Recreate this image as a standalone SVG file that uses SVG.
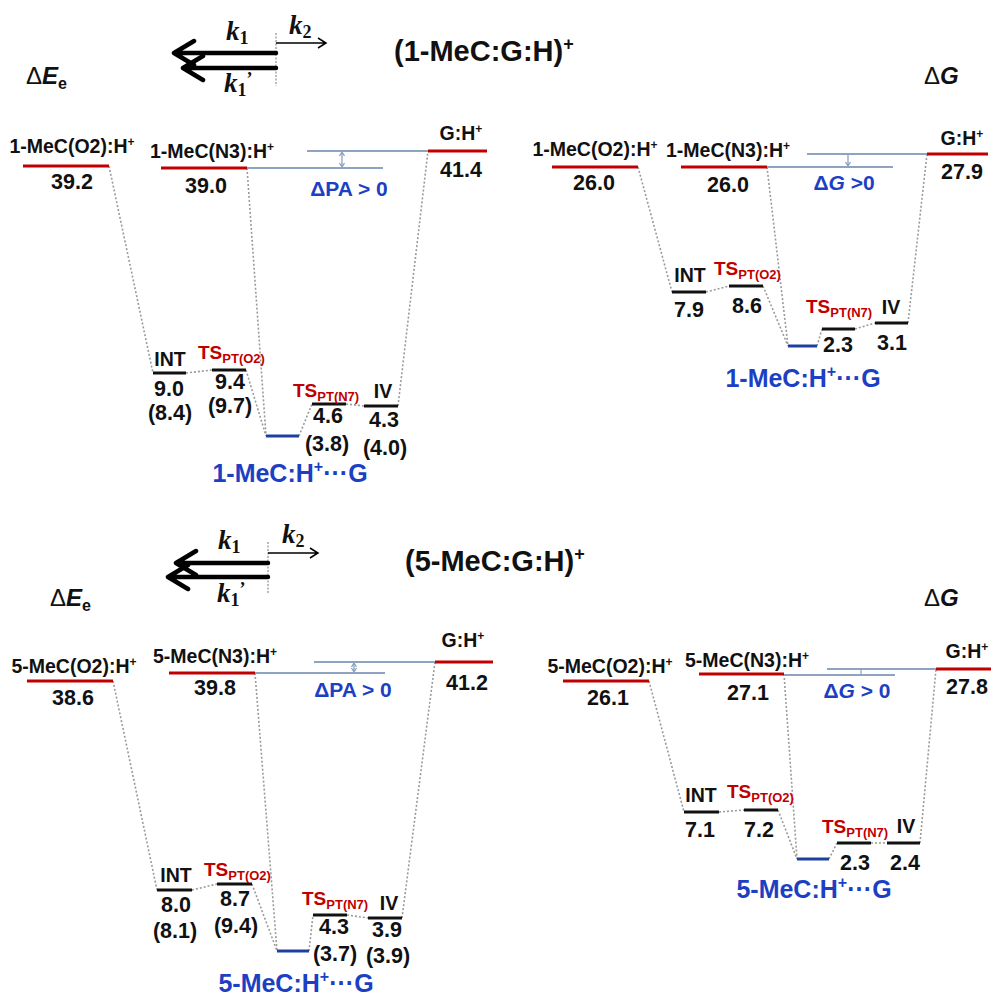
<svg xmlns="http://www.w3.org/2000/svg" width="991" height="997" viewBox="0 0 991 997">
<defs>
<style>
text{font-family:"Liberation Sans",Arial,sans-serif;font-weight:bold;fill:#111}
.lbl{font-size:19.5px;text-anchor:middle}
.num{font-size:21.5px;text-anchor:middle}
.ts{font-size:19px;fill:#c00000}
.ts .sub{font-size:13px}
.blue{fill:#1c3fc4}
.bl{font-size:25px;text-anchor:middle}
.dl{font-size:21px;text-anchor:middle}
.title{font-size:29px}
.k{font-family:"Liberation Serif","Times New Roman",serif;font-style:italic;font-size:27px}
.k .s{font-style:normal;font-size:18px}
.lv{stroke-width:3;fill:none}
.red{stroke:#c00000}
.blk{stroke:#111}
.bll{stroke:#1f3fa0}
.ref{stroke:#8ea3c0;stroke-width:2;fill:none}
.con path{stroke:#9a9a9a;stroke-width:1.6;stroke-dasharray:2 2;fill:none}
.thick{stroke:#000;stroke-width:4.5;fill:none;stroke-linecap:round;stroke-linejoin:round}
.thin{stroke:#000;stroke-width:1.5;fill:none}
.vd{stroke:#777;stroke-width:1;stroke-dasharray:2 1.5}
.tick{stroke:#8ea3c0;stroke-width:1.3;fill:none}
</style>
</defs>
<rect width="991" height="997" fill="#fff"/>

<!-- ===== top arrows & titles ===== -->
<g id="kinetics-top">
<line class="vd" x1="276" y1="33" x2="276" y2="86"/>
<path class="thick" d="M276,53 H175 M194,41 L174,53 L194,65"/>
<path class="thick" d="M276,68 H184 M203,56 L183,68 L203,80"/>
<path class="thin" d="M276,43 H326 M318,38 L326,43 L318,48"/>
<text class="k" x="226" y="40">k<tspan class="s" dy="4">1</tspan></text>
<text class="k" x="289" y="34">k<tspan class="s" dy="4">2</tspan></text>
<text class="k" x="224" y="92">k<tspan class="s" dy="4">1</tspan><tspan class="s" dy="-11">’</tspan></text>
</g>
<text id="title-top" class="title" x="394" y="61">(1-MeC:G:H)<tspan font-size="18" dy="-11">+</tspan></text>
<text id="axis-tl" x="26" y="84" font-size="24"><tspan font-weight="normal">Δ</tspan><tspan font-style="italic">E</tspan><tspan font-size="16" dy="5">e</tspan></text>
<text id="axis-tr" x="924" y="84" font-size="24"><tspan font-weight="normal">Δ</tspan><tspan font-style="italic">G</tspan></text>

<!-- ===== bottom arrows & titles ===== -->
<g id="kinetics-bottom">
<line class="vd" x1="268" y1="542" x2="268" y2="593"/>
<path class="thick" d="M268,563 H177 M196,551 L176,563 L196,575"/>
<path class="thick" d="M268,577 H169 M188,565 L168,577 L188,589"/>
<path class="thin" d="M268,553 H318 M310,548 L318,553 L310,558"/>
<text class="k" x="218" y="549">k<tspan class="s" dy="4">1</tspan></text>
<text class="k" x="282" y="543">k<tspan class="s" dy="4">2</tspan></text>
<text class="k" x="217" y="602">k<tspan class="s" dy="4">1</tspan><tspan class="s" dy="-11">’</tspan></text>
</g>
<text id="title-bottom" class="title" x="405" y="571">(5-MeC:G:H)<tspan font-size="18" dy="-11">+</tspan></text>
<text id="axis-bl" x="50" y="606" font-size="24"><tspan font-weight="normal">Δ</tspan><tspan font-style="italic">E</tspan><tspan font-size="16" dy="5">e</tspan></text>
<text id="axis-br" x="924" y="606" font-size="24"><tspan font-weight="normal">Δ</tspan><tspan font-style="italic">G</tspan></text>

<!-- ===== Panel TL ===== -->
<g id="conn-tl" class="con">
<path d="M109,166 L153,373"/>
<path d="M186,373 L212,370"/>
<path d="M246,370 L266,436"/>
<path d="M247,168 L266,436"/>
<path d="M299,436 L312,404"/>
<path d="M346,404 L364,406"/>
<path d="M398,406 L428,151"/>
</g>
<g id="tl-ref">
<path class="ref" d="M247,168 H383 M307,151 H428"/>
<path class="tick" d="M342,153 V166 M339.5,156 L342,152 L344.5,156 M339.5,163 L342,167 L344.5,163"/>
<text class="dl blue" x="349" y="196">ΔPA &gt; 0</text>
</g>
<g id="tl-o2">
<line class="lv red" x1="23" y1="166" x2="109" y2="166"/>
<text class="lbl" x="72" y="153">1-MeC(O2):H<tspan font-size="12" dy="-7">+</tspan></text>
<text class="num" x="72" y="189">39.2</text>
</g>
<g id="tl-n3">
<line class="lv red" x1="161" y1="168" x2="247" y2="168"/>
<text class="lbl" x="212" y="158">1-MeC(N3):H<tspan font-size="12" dy="-7">+</tspan></text>
<text class="num" x="206" y="193">39.0</text>
</g>
<g id="tl-gh">
<line class="lv red" x1="428" y1="151" x2="487" y2="151"/>
<text class="lbl" x="461" y="140">G:H<tspan font-size="12" dy="-7">+</tspan></text>
<text class="num" x="461" y="177">41.4</text>
</g>
<g id="tl-int">
<line class="lv blk" x1="153" y1="373" x2="186" y2="373"/>
<text class="lbl" x="170" y="366">INT</text>
<text class="num" x="169" y="396">9.0</text>
<text class="num" x="170" y="420">(8.4)</text>
</g>
<g id="tl-tso2">
<line class="lv blk" x1="212" y1="370" x2="246" y2="370"/>
<text class="ts" x="198" y="359">TS<tspan class="sub" dy="4">PT(O2)</tspan></text>
<text class="num" x="230" y="389">9.4</text>
<text class="num" x="230" y="413">(9.7)</text>
</g>
<g id="tl-complex">
<line class="lv bll" x1="266" y1="436" x2="299" y2="436"/>
<text class="bl blue" x="290" y="482">1-MeC:H<tspan font-size="16" dy="-10">+</tspan><tspan dy="10">···G</tspan></text>
</g>
<g id="tl-tsn7">
<line class="lv blk" x1="312" y1="404" x2="346" y2="404"/>
<text class="ts" x="293" y="397">TS<tspan class="sub" dy="4">PT(N7)</tspan></text>
<text class="num" x="328" y="423">4.6</text>
<text class="num" x="327" y="451">(3.8)</text>
</g>
<g id="tl-iv">
<line class="lv blk" x1="364" y1="406" x2="398" y2="406"/>
<text class="lbl" x="383" y="398">IV</text>
<text class="num" x="384" y="427">4.3</text>
<text class="num" x="385" y="455">(4.0)</text>
</g>

<!-- ===== Panel TR ===== -->
<g id="conn-tr" class="con">
<path d="M638,167 L672,292"/>
<path d="M706,292 L729,286"/>
<path d="M763,286 L788,346"/>
<path d="M767,167 L788,346"/>
<path d="M817,346 L822,329"/>
<path d="M855,329 L875,323"/>
<path d="M908,323 L927,154"/>
</g>
<g id="tr-ref">
<path class="ref" d="M767,167 H893 M807,154 H927"/>
<path class="tick" d="M848,155 V166 M845.5,162 L848,166 L850.5,162"/>
<text class="dl blue" x="844" y="190">Δ<tspan font-style="italic">G</tspan> &gt;0</text>
</g>
<g id="tr-o2">
<line class="lv red" x1="552" y1="167" x2="638" y2="167"/>
<text class="lbl" x="595" y="156">1-MeC(O2):H<tspan font-size="12" dy="-7">+</tspan></text>
<text class="num" x="594" y="190">26.0</text>
</g>
<g id="tr-n3">
<line class="lv red" x1="681" y1="167" x2="767" y2="167"/>
<text class="lbl" x="728" y="157">1-MeC(N3):H<tspan font-size="12" dy="-7">+</tspan></text>
<text class="num" x="728" y="192">26.0</text>
</g>
<g id="tr-gh">
<line class="lv red" x1="927" y1="154" x2="988" y2="154"/>
<text class="lbl" x="962" y="145">G:H<tspan font-size="12" dy="-7">+</tspan></text>
<text class="num" x="962" y="179">27.9</text>
</g>
<g id="tr-int">
<line class="lv blk" x1="672" y1="292" x2="706" y2="292"/>
<text class="lbl" x="690" y="282">INT</text>
<text class="num" x="689" y="317">7.9</text>
</g>
<g id="tr-tso2">
<line class="lv blk" x1="729" y1="286" x2="763" y2="286"/>
<text class="ts" x="714" y="275">TS<tspan class="sub" dy="4">PT(O2)</tspan></text>
<text class="num" x="747" y="313">8.6</text>
</g>
<g id="tr-complex">
<line class="lv bll" x1="788" y1="346" x2="817" y2="346"/>
<text class="bl blue" x="803" y="387">1-MeC:H<tspan font-size="16" dy="-10">+</tspan><tspan dy="10">···G</tspan></text>
</g>
<g id="tr-tsn7">
<line class="lv blk" x1="822" y1="329" x2="855" y2="329"/>
<text class="ts" x="806" y="313">TS<tspan class="sub" dy="4">PT(N7)</tspan></text>
<text class="num" x="838" y="352">2.3</text>
</g>
<g id="tr-iv">
<line class="lv blk" x1="875" y1="323" x2="908" y2="323"/>
<text class="lbl" x="891" y="314">IV</text>
<text class="num" x="892" y="350">3.1</text>
</g>

<!-- ===== Panel BL ===== -->
<g id="conn-bl" class="con">
<path d="M113,681 L157,890"/>
<path d="M192,890 L217,884"/>
<path d="M252,884 L277,951"/>
<path d="M255,673 L277,951"/>
<path d="M309,951 L313,915"/>
<path d="M347,915 L368,918"/>
<path d="M402,918 L435,662"/>
</g>
<g id="bl-ref">
<path class="ref" d="M255,673 H385 M314,662 H435"/>
<path class="tick" d="M354,664 V671 M351.5,667 L354,663 L356.5,667 M351.5,668 L354,672 L356.5,668"/>
<text class="dl blue" x="353" y="697">ΔPA &gt; 0</text>
</g>
<g id="bl-o2">
<line class="lv red" x1="27" y1="681" x2="113" y2="681"/>
<text class="lbl" x="74" y="673">5-MeC(O2):H<tspan font-size="12" dy="-7">+</tspan></text>
<text class="num" x="73" y="705">38.6</text>
</g>
<g id="bl-n3">
<line class="lv red" x1="169" y1="673" x2="255" y2="673"/>
<text class="lbl" x="215" y="663">5-MeC(N3):H<tspan font-size="12" dy="-7">+</tspan></text>
<text class="num" x="215" y="695">39.8</text>
</g>
<g id="bl-gh">
<line class="lv red" x1="435" y1="662" x2="493" y2="662"/>
<text class="lbl" x="463" y="647">G:H<tspan font-size="12" dy="-7">+</tspan></text>
<text class="num" x="467" y="690">41.2</text>
</g>
<g id="bl-int">
<line class="lv blk" x1="157" y1="890" x2="192" y2="890"/>
<text class="lbl" x="176" y="882">INT</text>
<text class="num" x="176" y="912">8.0</text>
<text class="num" x="175" y="938">(8.1)</text>
</g>
<g id="bl-tso2">
<line class="lv blk" x1="217" y1="884" x2="252" y2="884"/>
<text class="ts" x="204" y="876">TS<tspan class="sub" dy="4">PT(O2)</tspan></text>
<text class="num" x="235" y="906">8.7</text>
<text class="num" x="236" y="933">(9.4)</text>
</g>
<g id="bl-complex">
<line class="lv bll" x1="277" y1="951" x2="309" y2="951"/>
<text class="bl blue" x="296" y="992">5-MeC:H<tspan font-size="16" dy="-10">+</tspan><tspan dy="10">···G</tspan></text>
</g>
<g id="bl-tsn7">
<line class="lv blk" x1="313" y1="915" x2="347" y2="915"/>
<text class="ts" x="302" y="905">TS<tspan class="sub" dy="4">PT(N7)</tspan></text>
<text class="num" x="334" y="934">4.3</text>
<text class="num" x="335" y="961">(3.7)</text>
</g>
<g id="bl-iv">
<line class="lv blk" x1="368" y1="918" x2="402" y2="918"/>
<text class="lbl" x="389" y="910">IV</text>
<text class="num" x="387" y="937">3.9</text>
<text class="num" x="388" y="963">(3.9)</text>
</g>

<!-- ===== Panel BR ===== -->
<g id="conn-br" class="con">
<path d="M649,681 L684,812"/>
<path d="M719,812 L744,810"/>
<path d="M778,810 L797,859"/>
<path d="M784,674 L797,859"/>
<path d="M829,859 L837,843"/>
<path d="M871,843 L887,843"/>
<path d="M920,843 L936,669"/>
</g>
<g id="br-ref">
<path class="ref" d="M784,675 H895 M827,669 H936"/>
<path class="tick" d="M861,669 V674"/>
<text class="dl blue" x="857" y="698">Δ<tspan font-style="italic">G</tspan> &gt; 0</text>
</g>
<g id="br-o2">
<line class="lv red" x1="563" y1="681" x2="649" y2="681"/>
<text class="lbl" x="610" y="673">5-MeC(O2):H<tspan font-size="12" dy="-7">+</tspan></text>
<text class="num" x="608" y="705">26.1</text>
</g>
<g id="br-n3">
<line class="lv red" x1="699" y1="674" x2="784" y2="674"/>
<text class="lbl" x="747" y="667">5-MeC(N3):H<tspan font-size="12" dy="-7">+</tspan></text>
<text class="num" x="748" y="700">27.1</text>
</g>
<g id="br-gh">
<line class="lv red" x1="936" y1="669" x2="991" y2="669"/>
<text class="lbl" x="967" y="658">G:H<tspan font-size="12" dy="-7">+</tspan></text>
<text class="num" x="967" y="694">27.8</text>
</g>
<g id="br-int">
<line class="lv blk" x1="684" y1="812" x2="719" y2="812"/>
<text class="lbl" x="701" y="802">INT</text>
<text class="num" x="700" y="837">7.1</text>
</g>
<g id="br-tso2">
<line class="lv blk" x1="744" y1="810" x2="778" y2="810"/>
<text class="ts" x="727" y="798">TS<tspan class="sub" dy="4">PT(O2)</tspan></text>
<text class="num" x="759" y="837">7.2</text>
</g>
<g id="br-complex">
<line class="lv bll" x1="797" y1="859" x2="829" y2="859"/>
<text class="bl blue" x="814" y="898">5-MeC:H<tspan font-size="16" dy="-10">+</tspan><tspan dy="10">···G</tspan></text>
</g>
<g id="br-tsn7">
<line class="lv blk" x1="837" y1="843" x2="871" y2="843"/>
<text class="ts" x="822" y="833">TS<tspan class="sub" dy="4">PT(N7)</tspan></text>
<text class="num" x="855" y="870">2.3</text>
</g>
<g id="br-iv">
<line class="lv blk" x1="887" y1="843" x2="920" y2="843"/>
<text class="lbl" x="906" y="833">IV</text>
<text class="num" x="905" y="870">2.4</text>
</g>
</svg>
